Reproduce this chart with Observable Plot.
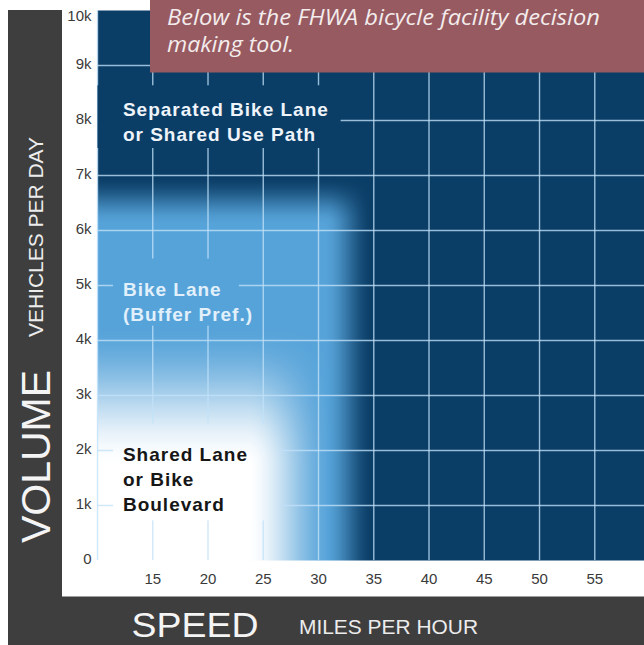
<!DOCTYPE html>
<html>
<head>
<meta charset="utf-8">
<script src="https://cdn.jsdelivr.net/npm/d3@7"></script>
<script src="https://cdn.jsdelivr.net/npm/@observablehq/plot@0.6"></script>
<style>
  body { margin: 0; background: #ffffff; }
  #wrap { position: relative; width: 644px; height: 645px; overflow: hidden; }
  #wrap > svg { position: absolute; left: 0; top: 0; }
  #overlay { pointer-events: none; }
</style>
</head>
<body>
<div id="wrap">
  <div id="chart"></div>
  <svg id="overlay" width="644" height="645" viewBox="0 0 644 645">
    <rect x="8" y="10" width="54" height="635" fill="#3e3e3e"></rect>
    <rect x="8" y="596.5" width="640" height="50" fill="#3e3e3e"></rect>
    <g font-family="'Liberation Sans', Arial, sans-serif" fill="#f4f4f4">
      <text transform="translate(50,456.5) rotate(-90)" text-anchor="middle" font-size="40" textLength="173" lengthAdjust="spacingAndGlyphs">VOLUME</text>
      <text transform="translate(43,237) rotate(-90)" text-anchor="middle" font-size="20.5" textLength="200" lengthAdjust="spacingAndGlyphs" fill="#ececec">VEHICLES PER DAY</text>
      <text x="131.5" y="636.5" font-size="35.5" textLength="127" lengthAdjust="spacingAndGlyphs">SPEED</text>
      <text x="299" y="633.5" font-size="21" textLength="179" lengthAdjust="spacingAndGlyphs" fill="#ececec">MILES PER HOUR</text>
    </g>
    <rect x="150" y="-2" width="520" height="74.5" fill="#975a61"></rect>
    <g font-family="'Open Sans', 'DejaVu Sans', sans-serif" font-style="italic" font-size="21.5" fill="#f3ecec">
      <text x="167" y="25" textLength="433" lengthAdjust="spacingAndGlyphs">Below is the FHWA bicycle facility decision</text>
      <text x="167" y="52" textLength="127" lengthAdjust="spacingAndGlyphs">making tool.</text>
    </g>
  </svg>
</div>
<script>
// ---- data ----
const speedTicks = [15, 20, 25, 30, 35, 40, 45, 50, 55];          // miles per hour
const volumeTicks = [0, 1000, 2000, 3000, 4000, 5000, 6000, 7000, 8000, 9000, 10000]; // vehicles per day
const speedDomain = [10, 59.5];
const volumeDomain = [0, 10000];

// facility zones: fully inside below "full", faded out by "end"
const bikeLaneZone = {speedFull: 30.5, speedEnd: 35, volumeFull: 6100, volumeEnd: 7000};
const sharedLaneZone = {speedFull: 23.5, speedEnd: 31.5, volumeFull: 1700, volumeEnd: 4300};
const zoneColors = ["#0b3e67", "#56a3d9", "#ffffff"]; // separated, bike lane, shared lane

const zoneLabels = [
  {text: "Separated Bike Lane\nor Shared Use Path", speed: 12.3, volume: 8400, color: "#eef4fa"},
  {text: "Bike Lane\n(Buffer Pref.)", speed: 12.3, volume: 5130, color: "#e2f0fb"},
  {text: "Shared Lane\nor Bike\nBoulevard", speed: 12.3, volume: 2130, color: "#161616"}
];
// areas behind labels where the grid is hidden
const labelBoxes = [
  {x1: 10, x2: 32, y1: 7500, y2: 8640},
  {x1: 11.4, x2: 22.8, y1: 4270, y2: 5490},
  {x1: 11.4, x2: 26.6, y1: 730, y2: 2490}
];

// ---- field ----
function smooth(a, b, v) {
  const t = Math.max(0, Math.min(1, (v - a) / (b - a)));
  return t * t * (3 - 2 * t);
}
function inside(z, x, y) {
  return (1 - smooth(z.speedFull, z.speedEnd, x)) * (1 - smooth(z.volumeFull, z.volumeEnd, y));
}
const field = (x, y) => Math.min(2, inside(bikeLaneZone, x, y) + inside(sharedLaneZone, x, y));

const gridStyle = {stroke: "#c2e1f8", strokeWidth: 1.4, strokeOpacity: 0.78};
const fontFamily = "'Liberation Sans', Arial, sans-serif";
const fmt = d => d === 0 ? "0" : d / 1000 + "k";

const plot = Plot.plot({
  width: 644,
  height: 645,
  marginLeft: 97,
  marginRight: 0,
  marginTop: 10,
  marginBottom: 85,
  x: {domain: speedDomain},
  y: {domain: volumeDomain},
  color: {type: "linear", domain: [0, 1, 2], range: zoneColors, interpolate: "rgb"},
  style: {background: "transparent", fontFamily, color: "#3a3a3a"},
  marks: [
    Plot.raster({fill: field, x1: speedDomain[0], x2: speedDomain[1], y1: volumeDomain[0], y2: volumeDomain[1], pixelSize: 1}),
    Plot.ruleX(speedTicks, gridStyle),
    Plot.ruleX([speedDomain[0]], gridStyle),
    Plot.ruleY(volumeTicks.filter(v => v > 0 && v < 10000), gridStyle),
    ...labelBoxes.map(b => Plot.raster({fill: field, x1: b.x1, x2: b.x2, y1: b.y1, y2: b.y2, pixelSize: 1})),
    ...zoneLabels.map(l => Plot.text([l], {
      x: "speed", y: "volume", text: "text", fill: l.color,
      textAnchor: "start", lineAnchor: "top", fontSize: 19, fontWeight: "bold",
      lineHeight: 1.32, fontFamily
    })),
    Plot.axisX(speedTicks, {tickSize: 0, tickPadding: 13, fontSize: 15, label: null, fill: "#3a3a3a"}),
    Plot.axisY(volumeTicks.slice(0, 10), {tickSize: 0, tickPadding: 6, fontSize: 15, label: null, tickFormat: fmt, dy: -1.5, fill: "#3a3a3a"}),
    Plot.axisY(volumeTicks.slice(10), {tickSize: 0, tickPadding: 6, fontSize: 15, label: null, tickFormat: fmt, dy: 6, fill: "#3a3a3a"})
  ]
});
document.getElementById("chart").appendChild(plot);
d3.select(plot).selectAll('g[aria-label="text"] text').attr("letter-spacing", "1px");
</script>
</body>
</html>
